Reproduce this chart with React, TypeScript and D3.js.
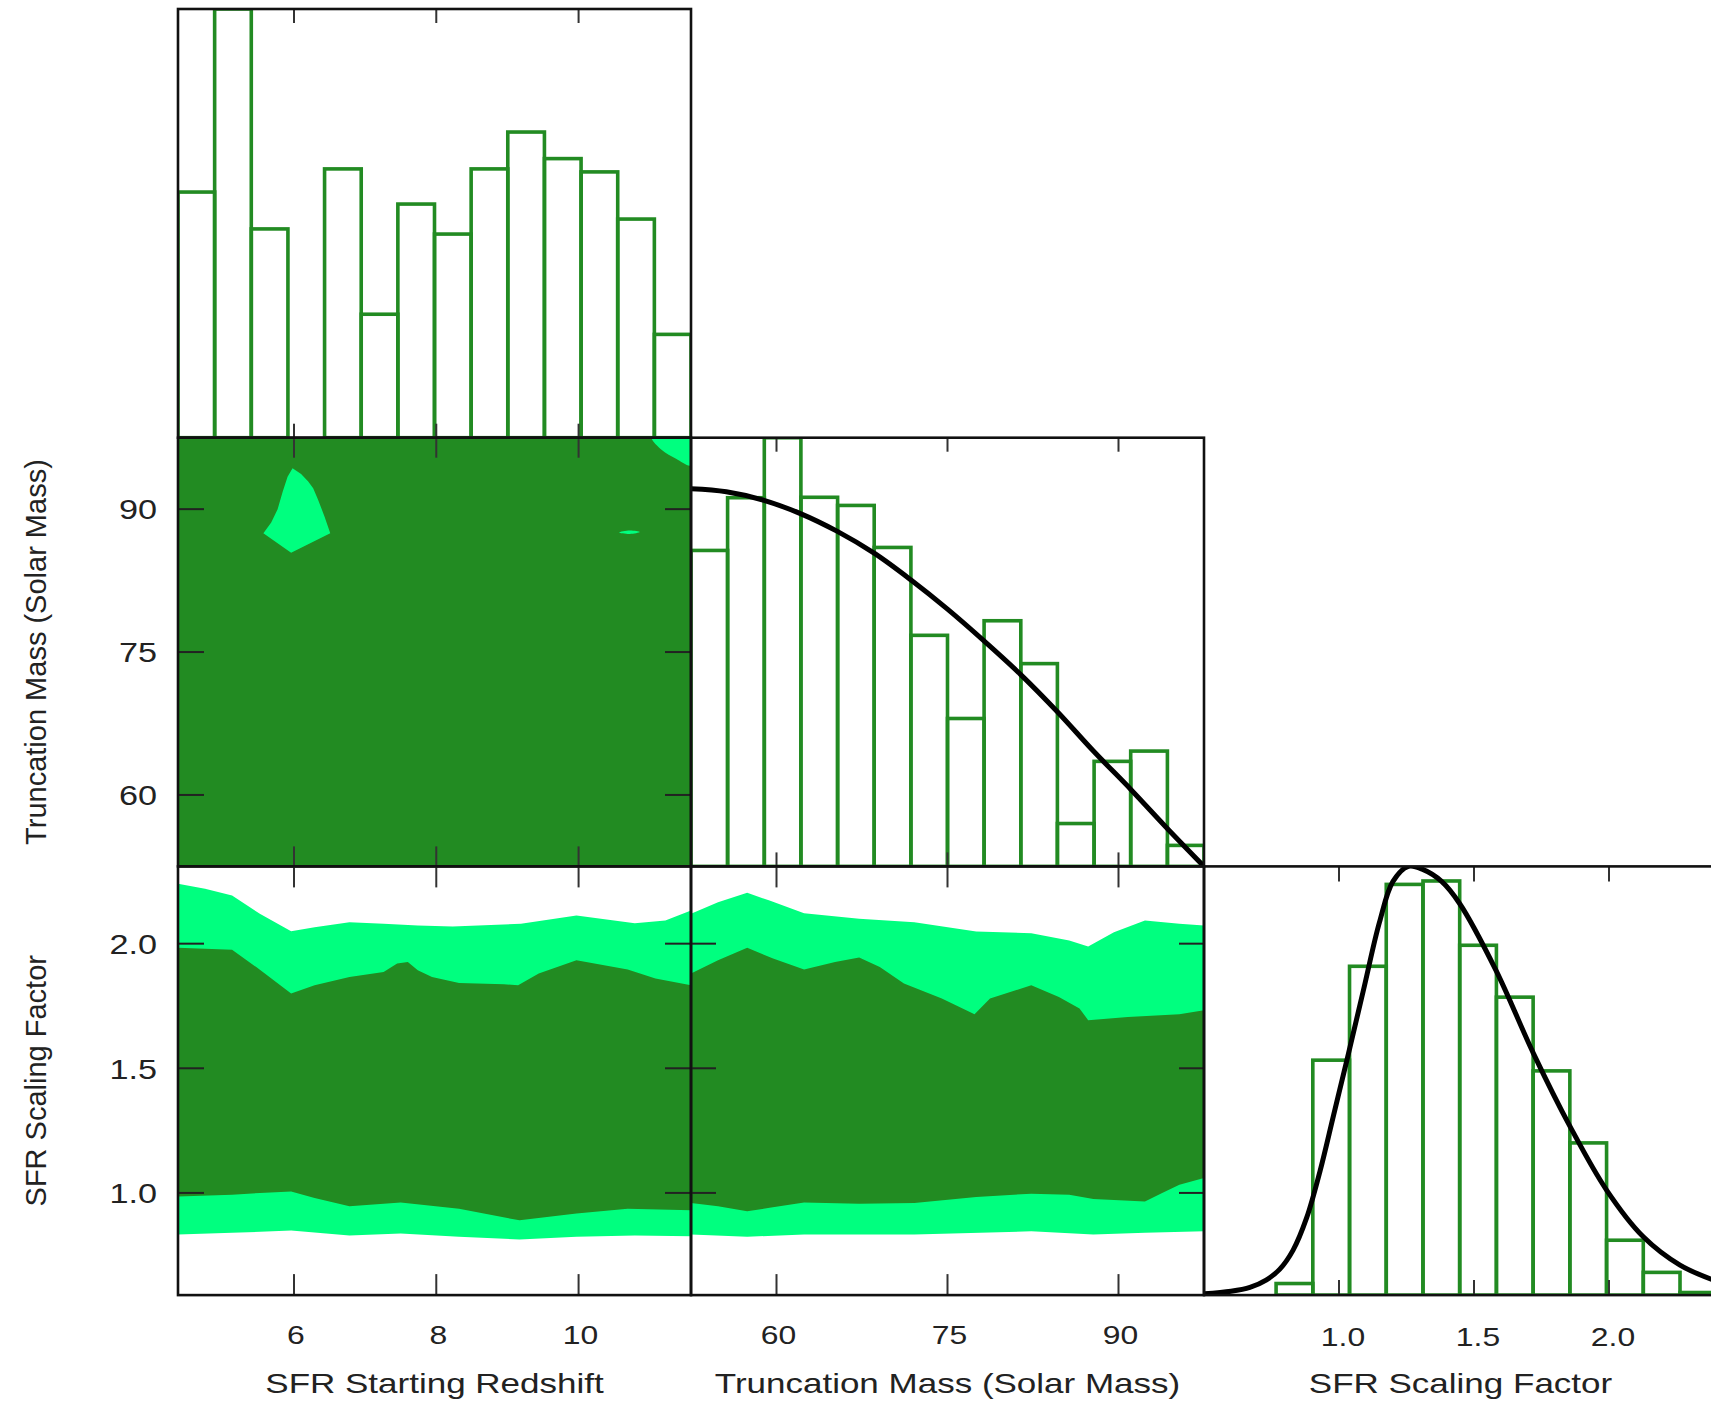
import React from "react";
import * as d3 from "d3";

const WIDTH = 1711;
const HEIGHT = 1405;
const LEFT = 178;
const TOP = 9;
const PW = 513;
const PH = 428.7;

const DARK = "#228B22";
const LIGHT = "#00FF7F";
const FONT = "'Liberation Sans', Arial, Helvetica, sans-serif";

// axis ranges and ticks
const redshiftDomain = [4.37, 11.58];
const massDomain = [52.5, 97.5];
const scalingDomainX = [0.5, 2.4];
const scalingDomainY = [0.59, 2.31];

const redshiftTicks = [6, 8, 10];
const massTicks = [60, 75, 90];
const scalingTicks = [1.0, 1.5, 2.0];

// 1D histograms
const redshiftBins = [4.37, 4.885, 5.4, 5.915, 6.43, 6.945, 7.46, 7.975, 8.49, 9.005, 9.52, 10.035, 10.55, 11.065, 11.58];
const redshiftCounts = [57.3, 100, 48.7, 0, 62.7, 28.8, 54.5, 47.5, 62.7, 71.3, 65.1, 62.0, 51.0, 24.1];

const massBins = [52.5, 55.71, 58.93, 62.14, 65.36, 68.57, 71.79, 75.0, 78.21, 81.43, 84.64, 87.86, 91.07, 94.29, 97.5];
const massCounts = [73.7, 86.0, 100, 86.1, 84.2, 74.4, 53.9, 34.5, 57.3, 47.3, 10.0, 24.5, 26.9, 4.9];

const scalingBins = [0.767, 0.903, 1.039, 1.175, 1.311, 1.447, 1.583, 1.719, 1.855, 1.991, 2.127, 2.263, 2.399];
const scalingCounts = [2.7, 54.8, 76.7, 95.8, 96.6, 81.6, 69.5, 52.3, 35.5, 12.8, 5.3, 0.6];

// fitted curves
const massCurve = [
  [52.5, 88.1], [55.6, 87.4], [58.9, 85.4], [62.1, 82.3], [65.3, 78.2], [68.6, 73.0],
  [71.8, 66.8], [75.0, 60.0], [78.2, 52.6], [81.4, 44.8], [84.7, 35.9], [87.8, 26.9],
  [91.1, 17.9], [94.3, 8.8], [97.5, 0],
];
const scalingCurve = [
  [0.5, 0.3], [0.6, 0.9], [0.67, 1.8], [0.73, 3.5], [0.78, 6], [0.83, 10.5], [0.88, 18],
  [0.93, 29], [0.98, 42], [1.03, 55], [1.09, 71], [1.15, 87], [1.2, 96.5], [1.257, 100],
  [1.31, 99.3], [1.38, 96.5], [1.446, 91.4], [1.581, 75.8], [1.72, 56.4], [1.856, 39.3],
  [1.991, 24.5], [2.127, 13.6], [2.263, 7.0], [2.4, 3.2],
];

// truncation mass vs redshift contours
const redMassInner = [[4.37, 52.5], [11.58, 52.5], [11.58, 97.5], [4.37, 97.5]];
const redMassOuterA = [
  [5.98, 94.29], [6.1, 93.7], [6.2, 92.9], [6.27, 92.2], [6.34, 90.97], [6.43, 89.21], [6.51, 87.47],
  [5.96, 85.43], [5.57, 87.47], [5.68, 88.6], [5.77, 90.0], [5.84, 91.8], [5.91, 93.4],
];
const redMassOuterB = [[10.57, 87.55], [10.72, 87.75], [10.86, 87.6], [10.72, 87.4]];
const redMassOuterC = [[11.03, 97.5], [11.17, 96.2], [11.37, 95.3], [11.58, 94.6], [11.58, 97.5]];

// scaling factor vs redshift contours
const redScalOuterTop = [
  [4.37, 2.24], [4.75, 2.22], [5.13, 2.193], [5.52, 2.12], [5.96, 2.05], [6.29, 2.066],
  [6.78, 2.086], [7.26, 2.08], [7.74, 2.073], [8.23, 2.069], [9.19, 2.08], [9.97, 2.113],
  [10.79, 2.082], [11.22, 2.093], [11.58, 2.133],
];
const redScalOuterBottom = [
  [4.37, 0.833], [5.13, 0.84], [5.96, 0.849], [6.78, 0.829], [7.5, 0.837], [8.32, 0.824],
  [9.17, 0.813], [9.97, 0.824], [10.79, 0.829], [11.58, 0.826],
];
const redScalInnerTop = [
  [4.37, 1.984], [5.13, 1.976], [5.47, 1.906], [5.96, 1.8], [6.29, 1.833], [6.78, 1.866],
  [7.26, 1.886], [7.45, 1.92], [7.6, 1.926], [7.74, 1.893], [7.94, 1.866], [8.32, 1.842],
  [8.95, 1.837], [9.15, 1.833], [9.44, 1.88], [9.97, 1.933], [10.69, 1.896], [11.08, 1.86],
  [11.58, 1.833],
];
const redScalInnerBottom = [
  [4.37, 0.986], [5.13, 0.993], [5.52, 1.0], [5.96, 1.006], [6.29, 0.98], [6.78, 0.946],
  [7.5, 0.962], [8.32, 0.936], [9.17, 0.89], [9.97, 0.917], [10.69, 0.936], [11.58, 0.93],
];

// scaling factor vs truncation mass contours
const massScalOuterTop = [
  [52.5, 2.12], [54.87, 2.166], [57.43, 2.204], [59.39, 2.173], [62.42, 2.122], [67.25, 2.1],
  [72.09, 2.086], [77.52, 2.049], [82.35, 2.042], [85.68, 2.013], [87.34, 1.989], [89.6, 2.046],
  [92.32, 2.093], [95.34, 2.08], [97.5, 2.073],
];
const massScalOuterBottom = [
  [52.5, 0.833], [57.43, 0.824], [62.42, 0.833], [72.09, 0.833], [82.35, 0.846], [87.79, 0.833],
  [92.32, 0.84], [97.5, 0.846],
];
const massScalInnerTop = [
  [52.5, 1.88], [54.87, 1.933], [57.43, 1.984], [59.7, 1.94], [62.42, 1.896], [65.14, 1.926],
  [67.25, 1.944], [69.06, 1.906], [71.18, 1.84], [74.5, 1.78], [77.37, 1.717], [78.73, 1.78],
  [82.35, 1.833], [84.77, 1.786], [86.58, 1.74], [87.34, 1.693], [90.82, 1.706], [95.34, 1.717],
  [97.5, 1.733],
];
const massScalInnerBottom = [
  [52.5, 0.96], [54.87, 0.946], [57.43, 0.926], [59.39, 0.94], [62.42, 0.962], [67.25, 0.957],
  [72.09, 0.96], [77.52, 0.984], [82.35, 0.997], [85.68, 0.993], [87.79, 0.976], [92.32, 0.966],
  [93.83, 1.0], [95.34, 1.033], [97.5, 1.06],
];

const colX = (i: number) => LEFT + i * PW;
const rowY = (j: number) => TOP + j * PH;

const xRed = d3.scaleLinear().domain(redshiftDomain).range([colX(0), colX(1)]);
const xMass = d3.scaleLinear().domain(massDomain).range([colX(1), colX(2)]);
const xScal = d3.scaleLinear().domain(scalingDomainX).range([colX(2), colX(3)]);
const yMass = d3.scaleLinear().domain(massDomain).range([rowY(2), rowY(1)]);
const yScal = d3.scaleLinear().domain(scalingDomainY).range([rowY(3), rowY(2)]);
const yH1 = d3.scaleLinear().domain([0, d3.max(redshiftCounts)]).range([rowY(1), rowY(0)]);
const yH2 = d3.scaleLinear().domain([0, d3.max(massCounts)]).range([rowY(2), rowY(1)]);
const yH3 = d3.scaleLinear().domain([0, d3.max(scalingCurve, (d) => d[1])]).range([rowY(3), rowY(2)]);

const polygon = (xs, ys, pts) =>
  d3.line().x((d) => xs(d[0])).y((d) => ys(d[1])).curve(d3.curveLinearClosed)(pts);
const band = (xs, ys, top, bottom) => polygon(xs, ys, [...top, ...bottom.slice().reverse()]);
const curve = (xs, ys, pts) =>
  d3.line().x((d) => xs(d[0])).y((d) => ys(d[1])).curve(d3.curveCatmullRom.alpha(0.5))(pts);

const fmtTick = (v: number, dec: boolean) => (dec ? d3.format(".1f")(v) : String(v));

function Hist({ bins, counts, xs, ys }) {
  const base = ys(0);
  return (
    <g>
      {counts.map((c, i) => (
        <rect
          key={i}
          x={xs(bins[i])}
          y={ys(c)}
          width={xs(bins[i + 1]) - xs(bins[i])}
          height={base - ys(c)}
          fill="none"
          stroke={DARK}
          strokeWidth={3.6}
        />
      ))}
    </g>
  );
}

function Frame({ col, row, xs, xTicks, xLen, ys = null, yTicks = [], yLen = 0 }) {
  const x0 = colX(col);
  const y0 = rowY(row);
  const x1 = x0 + PW;
  const y1 = y0 + PH;
  return (
    <g>
      {xTicks.map((t) => (
        <g key={"x" + t}>
          <line x1={xs(t)} x2={xs(t)} y1={y0} y2={y0 + xLen} stroke="#333" strokeWidth={2} />
          <line x1={xs(t)} x2={xs(t)} y1={y1} y2={y1 - xLen} stroke="#333" strokeWidth={2} />
        </g>
      ))}
      {ys &&
        yTicks.map((t) => (
          <g key={"y" + t}>
            <line x1={x0} x2={x0 + yLen} y1={ys(t)} y2={ys(t)} stroke="#222" strokeWidth={2} />
            <line x1={x1} x2={x1 - yLen} y1={ys(t)} y2={ys(t)} stroke="#222" strokeWidth={2} />
          </g>
        ))}
      <rect x={x0} y={y0} width={PW} height={PH} fill="none" stroke="#111" strokeWidth={2.6} />
    </g>
  );
}

function Label({ x, y, anchor = "middle", size, sx = 1.25, children }) {
  return (
    <text
      transform={`translate(${x},${y}) scale(${sx},1)`}
      textAnchor={anchor}
      fontSize={size}
      fontFamily={FONT}
      fill="#222"
    >
      {children}
    </text>
  );
}

export default function App() {
  const clip = (c: number, r: number) => `clip-${c}-${r}`;
  const cells = [
    [0, 0], [0, 1], [1, 1], [0, 2], [1, 2], [2, 2],
  ];
  const blobLine = d3.line().x((d) => xRed(d[0])).y((d) => yMass(d[1]));
  return (
    <div style={{ position: "fixed", left: 0, top: 0, width: WIDTH, height: HEIGHT, overflow: "hidden", background: "#fff" }}>
      <svg width={WIDTH} height={HEIGHT} viewBox={`0 0 ${WIDTH} ${HEIGHT}`}>
        <defs>
          {cells.map(([c, r]) => (
            <clipPath key={clip(c, r)} id={clip(c, r)}>
              <rect x={colX(c)} y={rowY(r)} width={PW} height={PH} />
            </clipPath>
          ))}
        </defs>

        {/* redshift histogram */}
        <g clipPath={`url(#${clip(0, 0)})`}>
          <Hist bins={redshiftBins} counts={redshiftCounts} xs={xRed} ys={yH1} />
        </g>

        {/* mass vs redshift */}
        <g clipPath={`url(#${clip(0, 1)})`}>
          <path d={polygon(xRed, yMass, redMassInner)} fill={DARK} />
          <path d={blobLine.curve(d3.curveLinearClosed)(redMassOuterA)} fill={LIGHT} />
          <path d={blobLine.curve(d3.curveCatmullRomClosed)(redMassOuterB)} fill={LIGHT} />
          <path d={blobLine.curve(d3.curveCatmullRomClosed)(redMassOuterC)} fill={LIGHT} />
        </g>

        {/* mass histogram */}
        <g clipPath={`url(#${clip(1, 1)})`}>
          <Hist bins={massBins} counts={massCounts} xs={xMass} ys={yH2} />
          <path d={curve(xMass, yH2, massCurve)} fill="none" stroke="#000" strokeWidth={5} />
        </g>

        {/* scaling vs redshift */}
        <g clipPath={`url(#${clip(0, 2)})`}>
          <path d={band(xRed, yScal, redScalOuterTop, redScalOuterBottom)} fill={LIGHT} />
          <path d={band(xRed, yScal, redScalInnerTop, redScalInnerBottom)} fill={DARK} />
        </g>

        {/* scaling vs mass */}
        <g clipPath={`url(#${clip(1, 2)})`}>
          <path d={band(xMass, yScal, massScalOuterTop, massScalOuterBottom)} fill={LIGHT} />
          <path d={band(xMass, yScal, massScalInnerTop, massScalInnerBottom)} fill={DARK} />
        </g>

        {/* scaling histogram */}
        <g clipPath={`url(#${clip(2, 2)})`}>
          <Hist bins={scalingBins} counts={scalingCounts} xs={xScal} ys={yH3} />
          <path d={curve(xScal, yH3, scalingCurve)} fill="none" stroke="#000" strokeWidth={5} />
        </g>

        {/* frames */}
        <Frame col={0} row={0} xs={xRed} xTicks={redshiftTicks} xLen={14} />
        <Frame col={0} row={1} xs={xRed} xTicks={redshiftTicks} xLen={20} ys={yMass} yTicks={massTicks} yLen={26} />
        <Frame col={1} row={1} xs={xMass} xTicks={massTicks} xLen={14} />
        <Frame col={0} row={2} xs={xRed} xTicks={redshiftTicks} xLen={21} ys={yScal} yTicks={scalingTicks} yLen={26} />
        <Frame col={1} row={2} xs={xMass} xTicks={massTicks} xLen={21} ys={yScal} yTicks={scalingTicks} yLen={25} />
        <Frame col={2} row={2} xs={xScal} xTicks={scalingTicks} xLen={15} />

        {/* x tick labels */}
        {redshiftTicks.map((t) => (
          <Label key={"r" + t} x={xRed(t) + 2} y={1344} size={25.5}>{fmtTick(t, false)}</Label>
        ))}
        {massTicks.map((t) => (
          <Label key={"m" + t} x={xMass(t) + 2} y={1344} size={25.5}>{fmtTick(t, false)}</Label>
        ))}
        {scalingTicks.map((t) => (
          <Label key={"s" + t} x={xScal(t) + 4} y={1346} size={25.5}>{fmtTick(t, true)}</Label>
        ))}

        {/* y tick labels */}
        {massTicks.map((t) => (
          <Label key={"ym" + t} x={157} y={yMass(t) + 10.3} anchor="end" size={28.5} sx={1.2}>{fmtTick(t, false)}</Label>
        ))}
        {scalingTicks.map((t) => (
          <Label key={"ys" + t} x={157} y={yScal(t) + 10.3} anchor="end" size={28.5} sx={1.2}>{fmtTick(t, true)}</Label>
        ))}

        {/* axis titles */}
        <Label x={colX(0) + PW / 2} y={1393} size={28}>SFR Starting Redshift</Label>
        <Label x={colX(1) + PW / 2} y={1393} size={28}>Truncation Mass (Solar Mass)</Label>
        <Label x={colX(2) + PW / 2} y={1393} size={28}>SFR Scaling Factor</Label>

        <text transform={`translate(46,${rowY(1) + PH / 2}) rotate(-90)`} textAnchor="middle" fontSize={29} fontFamily={FONT} fill="#222">
          Truncation Mass (Solar Mass)
        </text>
        <text transform={`translate(46,${rowY(2) + PH / 2}) rotate(-90)`} textAnchor="middle" fontSize={29} fontFamily={FONT} fill="#222">
          SFR Scaling Factor
        </text>
      </svg>
    </div>
  );
}
